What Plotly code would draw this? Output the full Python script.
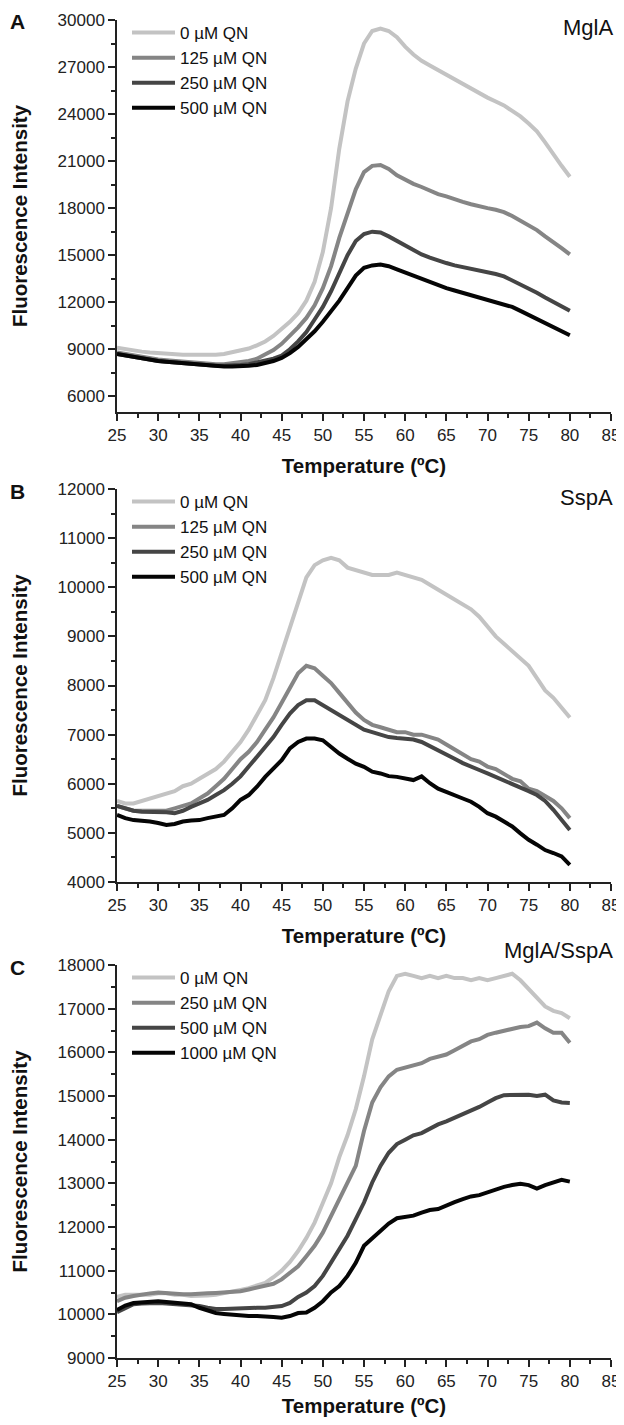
import plotly.graph_objects as go

# temperature axis (deg C), one reading per degree
temps = list(range(25, 81))

# ---- Panel A: MglA ----
mgla_labels = ['0 µM QN', '125 µM QN', '250 µM QN', '500 µM QN']
mgla_0 = [9100, 9000, 8900, 8850, 8800, 8750, 8700, 8700, 8650, 8650,
          8650, 8600, 8650, 8700, 8800, 8900, 9050, 9250, 9500, 9850,
          10300, 10750, 11300, 12100, 13300, 15200, 18000, 21800, 24800, 26900,
          28500, 29300, 29450, 29300, 28900, 28300, 27800, 27400, 27100, 26800,
          26500, 26200, 25900, 25600, 25300, 25050, 24800, 24550, 24200, 23850,
          23400, 22900, 22200, 21400, 20700, 20000]
mgla_125 = [8800, 8700, 8600, 8500, 8400, 8350, 8300, 8250, 8200, 8150,
            8100, 8100, 8050, 8050, 8100, 8150, 8250, 8400, 8650, 8950,
            9350, 9850, 10400, 11000, 11800, 12900, 14300, 16100, 17600, 19200,
            20300, 20700, 20750, 20500, 20100, 19800, 19550, 19350, 19100, 18900,
            18750, 18550, 18400, 18250, 18100, 18000, 17900, 17750, 17500, 17200,
            16900, 16600, 16200, 15850, 15450, 15050]
mgla_250 = [8700, 8600, 8500, 8400, 8300, 8250, 8200, 8150, 8100, 8050,
            8000, 7950, 7950, 7950, 7950, 8000, 8050, 8150, 8250, 8400,
            8600, 9000, 9500, 10100, 10900, 11700, 12700, 13900, 15000, 15900,
            16350, 16500, 16450, 16200, 15900, 15600, 15300, 15050, 14850, 14650,
            14500, 14350, 14250, 14100, 14000, 13900, 13800, 13650, 13400, 13150,
            12900, 12600, 12300, 12000, 11750, 11450]
mgla_500 = [8700, 8600, 8500, 8400, 8300, 8250, 8200, 8150, 8100, 8050,
            8000, 7950, 7950, 7900, 7900, 7900, 7950, 8000, 8100, 8250,
            8450, 8750, 9150, 9650, 10150, 10750, 11400, 12100, 12900, 13700,
            14200, 14350, 14400, 14300, 14100, 13900, 13700, 13450, 13300, 13050,
            12900, 12750, 12600, 12450, 12350, 12200, 12050, 11900, 11700, 11450,
            11200, 10950, 10700, 10450, 10200, 9900]

# ---- Panel B: SspA ----
sspa_labels = ['0 µM QN', '125 µM QN', '250 µM QN', '500 µM QN']
sspa_0 = [5650, 5600, 5600, 5650, 5700, 5750, 5800, 5850, 5950, 6000,
          6100, 6200, 6300, 6450, 6650, 6850, 7100, 7400, 7700, 8150,
          8650, 9200, 9700, 10200, 10450, 10550, 10600, 10550, 10400, 10350,
          10300, 10250, 10250, 10250, 10300, 10250, 10200, 10150, 10050, 9950,
          9850, 9750, 9650, 9550, 9400, 9200, 9000, 8850, 8700, 8550,
          8400, 8150, 7900, 7750, 7550, 7350]
sspa_125 = [5550, 5500, 5450, 5450, 5450, 5450, 5450, 5500, 5550, 5600,
            5700, 5800, 5950, 6100, 6300, 6500, 6650, 6850, 7100, 7350,
            7650, 7950, 8250, 8400, 8350, 8200, 8050, 7850, 7650, 7450,
            7300, 7200, 7150, 7100, 7050, 7050, 7000, 7000, 6950, 6900,
            6800, 6700, 6600, 6500, 6450, 6350, 6300, 6200, 6100, 6050,
            5900, 5850, 5750, 5650, 5500, 5300]
sspa_250 = [5550, 5500, 5450, 5430, 5430, 5430, 5420, 5400, 5450, 5530,
            5600, 5670, 5770, 5870, 6000, 6150, 6350, 6550, 6750, 6950,
            7200, 7430, 7600, 7700, 7700, 7600, 7500, 7390, 7280, 7190,
            7100, 7050, 7000, 6950, 6930, 6920, 6900, 6850, 6770, 6680,
            6600, 6510, 6420, 6340, 6280, 6210, 6140, 6070, 6000, 5940,
            5850, 5770, 5650, 5470, 5250, 5060]
sspa_500 = [5365, 5300, 5260, 5250, 5230, 5200, 5160, 5180, 5230, 5250,
            5260, 5300, 5330, 5365, 5500, 5670, 5770, 5940, 6140, 6310,
            6480, 6720, 6850, 6920, 6920, 6885, 6750, 6615, 6510, 6410,
            6345, 6245, 6210, 6155, 6140, 6110, 6075, 6150, 6010, 5900,
            5840, 5770, 5700, 5635, 5530, 5400, 5330, 5230, 5130, 4990,
            4860, 4760, 4650, 4590, 4520, 4350]

# ---- Panel C: MglA/SspA ----
complex_labels = ['0 µM QN', '250 µM QN', '500 µM QN', '1000 µM QN']
complex_0 = [10400, 10450, 10450, 10450, 10450, 10480, 10480, 10450, 10450, 10420,
             10420, 10430, 10450, 10480, 10520, 10560, 10600, 10650, 10720, 10850,
             11000, 11200, 11450, 11750, 12100, 12550, 13000, 13600, 14100, 14700,
             15450, 16300, 16850, 17400, 17750, 17800, 17750, 17700, 17750, 17700,
             17750, 17700, 17700, 17650, 17700, 17650, 17700, 17750, 17800, 17650,
             17450, 17250, 17050, 16950, 16900, 16780]
complex_250 = [10300, 10380, 10420, 10460, 10480, 10500, 10480, 10460, 10460, 10460,
               10460, 10480, 10490, 10500, 10510, 10530, 10570, 10610, 10650, 10700,
               10800, 10950, 11100, 11330, 11570, 11870, 12250, 12650, 13000, 13400,
               14200, 14850, 15200, 15450, 15600, 15650, 15700, 15750, 15850, 15900,
               15950, 16050, 16150, 16250, 16300, 16400, 16450, 16500, 16550, 16580,
               16600, 16680, 16550, 16450, 16450, 16220]
complex_500 = [10050, 10150, 10230, 10250, 10260, 10260, 10250, 10240, 10230, 10210,
               10190, 10150, 10120, 10120, 10130, 10150, 10150, 10150, 10150, 10160,
               10190, 10260, 10400, 10500, 10650, 10880, 11180, 11490, 11800, 12180,
               12560, 13020, 13400, 13700, 13900, 14000, 14100, 14150, 14250, 14350,
               14420, 14500, 14600, 14680, 14750, 14850, 14950, 15020, 15030, 15020,
               15030, 15000, 15030, 14900, 14850, 14840]
complex_1000 = [10100, 10200, 10260, 10280, 10290, 10300, 10280, 10260, 10250, 10230,
                10150, 10080, 10030, 10010, 9990, 9980, 9960, 9960, 9960, 9940,
                9920, 9960, 10030, 10040, 10150, 10300, 10500, 10650, 10880, 11180,
                11570, 11750, 11920, 12080, 12200, 12240, 12260, 12330, 12390, 12410,
                12500, 12570, 12640, 12700, 12730, 12800, 12860, 12920, 12960, 12990,
                12960, 12880, 12960, 13030, 13080, 13040]

greys = ['#c3c3c3', '#858585', '#454545', '#050505']
font = 'Liberation Sans, Arial, sans-serif'

panels = [
    (mgla_labels, [mgla_0, mgla_125, mgla_250, mgla_500], [5000, 30000], 3000, 1500, 'A', 'MglA'),
    (sspa_labels, [sspa_0, sspa_125, sspa_250, sspa_500], [4000, 12000], 1000, 500, 'B', 'SspA'),
    (complex_labels, [complex_0, complex_250, complex_500, complex_1000], [9000, 18000], 1000, 500, 'C', 'MglA/SspA'),
]

# the page body keeps its default 8px margin, so the figure sits 8px in
W, H = 616.0, 1409.0
# pixel rows of each panel's plot area (top, bottom), figure coordinates
rows = [(12, 404), (481, 874), (957, 1350)]

fig = go.Figure()
layout = {}
for i, (labels, series, yrange, dt, mdt, letter, name) in enumerate(panels):
    n = '' if i == 0 else str(i + 1)
    leg = 'legend' + n
    for lab, vals, col in zip(labels, series, greys):
        fig.add_trace(go.Scatter(x=temps, y=vals, mode='lines', name=lab,
                                 line=dict(color=col, width=4),
                                 xaxis='x' + n, yaxis='y' + n, legend=leg))
    top, bot = rows[i]
    layout['xaxis' + n] = dict(
        domain=[109 / W, 603 / W], anchor='y' + n, range=[25, 85],
        automargin=False, ticklabeloverflow='allow',
        tick0=25, dtick=5, ticks='outside', ticklen=7, tickwidth=1.5,
        tickcolor='#222', showline=True, linewidth=1.5, linecolor='#222',
        showgrid=False, zeroline=False,
        minor=dict(ticks='outside', ticklen=4, dtick=2.5, tickwidth=1.5, tickcolor='#222'),
        tickfont=dict(size=17, color='#222', family=font),
        title=dict(text='<b>Temperature (ºC)</b>', standoff=14,
                   font=dict(size=20.5, color='#111', family=font)))
    layout['yaxis' + n] = dict(
        domain=[1 - bot / H, 1 - top / H], anchor='x' + n, range=yrange,
        automargin=False, tickformat='d', ticklabeloverflow='allow',
        tick0=0, dtick=dt, ticks='outside', ticklen=7, tickwidth=1.5,
        tickcolor='#222', showline=True, linewidth=1.5, linecolor='#222',
        showgrid=False, zeroline=False,
        minor=dict(ticks='outside', ticklen=4, dtick=mdt, tickwidth=1.5, tickcolor='#222'),
        tickfont=dict(size=17, color='#222', family=font),
        title=dict(text='<b>Fluorescence Intensity</b>', standoff=24,
                   font=dict(size=20.5, color='#111', family=font)))
    layout[leg] = dict(x=119 / W, y=1 - (top - 5) / H, xanchor='left', yanchor='top',
                       bgcolor='rgba(0,0,0,0)', borderwidth=0, itemwidth=43,
                       tracegroupgap=0,
                       font=dict(size=17, color='#111', family=font))
    fig.add_annotation(text='<b>' + letter + '</b>', xref='paper', yref='paper',
                       x=10 / W, y=1 - (top + 2) / H, showarrow=False,
                       xanchor='center', yanchor='middle',
                       font=dict(size=21, color='#111', family=font))
    fig.add_annotation(text=name, xref='paper', yref='paper',
                       x=607 / W, y=1 - (top + 8 if i < 2 else top - 15) / H, showarrow=False,
                       xanchor='right', yanchor='middle',
                       font=dict(size=22, color='#111', family=font))

fig.update_layout(width=W, height=H, margin=dict(l=0, r=0, t=0, b=0),
                  plot_bgcolor='white', paper_bgcolor='white', **layout)

fig.write_html("out.html")
